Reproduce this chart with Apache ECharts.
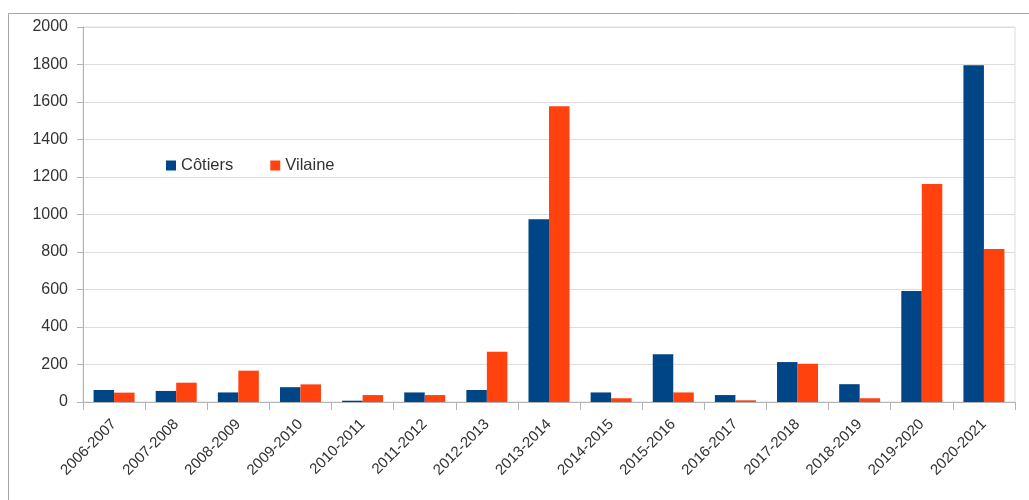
<!DOCTYPE html>
<html>
<head>
<meta charset="utf-8">
<script src="https://cdn.jsdelivr.net/npm/echarts@6/dist/echarts.min.js"></script>
<style>
html, body { margin: 0; padding: 0; background: #fff; }
#chart { width: 1029px; height: 500px; }
</style>
</head>
<body>
<div id="chart"></div>
<script>
var seasons = ['2006-2007', '2007-2008', '2008-2009', '2009-2010', '2010-2011', '2011-2012', '2012-2013',
    '2013-2014', '2014-2015', '2015-2016', '2016-2017', '2017-2018', '2018-2019', '2019-2020', '2020-2021'];
var cotiers = [64, 59, 51, 79, 7, 51, 64, 975, 51, 255, 37, 213, 95, 592, 1796];
var vilaine = [50, 103, 167, 94, 37, 37, 268, 1577, 20, 51, 9, 204, 20, 1163, 816];
var yTicks = { min: 0, max: 2000, step: 200 };

var chart = echarts.init(document.getElementById('chart'));

var option = {
    animation: false,
    textStyle: { fontFamily: 'Liberation Sans' },
    color: ['#004586', '#ff420e'],
    graphic: [
        {
            type: 'rect',
            shape: { x: 8.5, y: 13.5, width: 1100, height: 600 },
            style: { fill: 'none', stroke: '#a6a6a6', lineWidth: 1 },
            silent: true
        }
    ],
    legend: {
        left: 161,
        top: 152,
        itemWidth: 10,
        itemHeight: 10,
        itemGap: 37,
        icon: 'rect',
        textStyle: { fontSize: 16.5, color: '#333333', fontFamily: 'Liberation Sans' },
        data: ['Côtiers', 'Vilaine']
    },
    grid: {
        left: 83,
        right: 14,
        top: 27,
        bottom: 98,
        show: true,
        borderColor: '#dddddd',
        borderWidth: 1,
        containLabel: false
    },
    xAxis: {
        type: 'category',
        data: seasons,
        axisLine: { show: true, lineStyle: { color: '#b3b3b3' } },
        axisTick: { show: true, length: 8, lineStyle: { color: '#b3b3b3' } },
        axisLabel: { rotate: 45, fontSize: 15, color: '#333333', margin: 20, interval: 0 }
    },
    yAxis: {
        type: 'value',
        min: yTicks.min,
        max: yTicks.max,
        interval: yTicks.step,
        axisLine: { show: true, lineStyle: { color: '#b3b3b3' } },
        axisTick: { show: true, length: 6, lineStyle: { color: '#b3b3b3' } },
        axisLabel: { fontSize: 16, color: '#333333', margin: 15, formatter: function (v) { return String(v); } },
        splitLine: { lineStyle: { color: '#dddddd' } }
    },
    series: [
        { name: 'Côtiers', type: 'bar', data: cotiers, barGap: '0%', barCategoryGap: '34%' },
        { name: 'Vilaine', type: 'bar', data: vilaine, barGap: '0%', barCategoryGap: '34%' }
    ]
};

chart.setOption(option);
</script>
</body>
</html>
